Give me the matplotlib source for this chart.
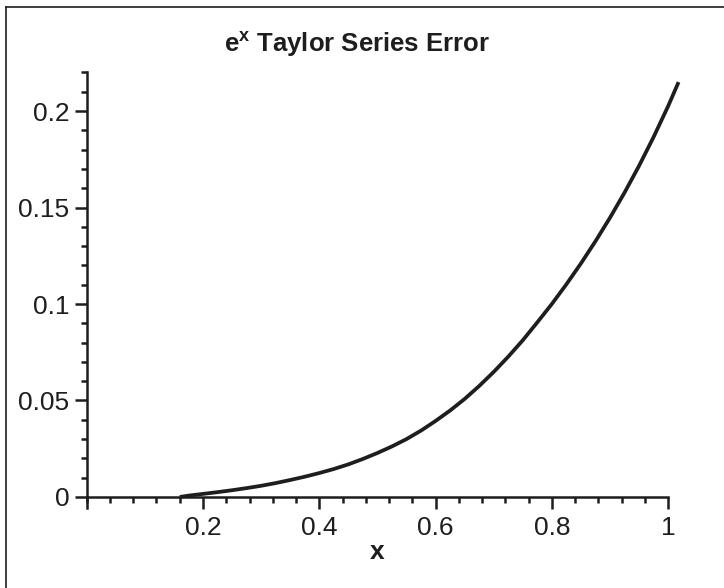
import matplotlib

matplotlib.use("Agg")
import matplotlib.pyplot as plt
from matplotlib.lines import Line2D
from matplotlib.ticker import MultipleLocator, FuncFormatter

plt.rcParams["font.family"] = ["Liberation Sans", "DejaVu Sans"]
plt.rcParams["mathtext.fontset"] = "custom"
plt.rcParams["mathtext.rm"] = "Liberation Sans"
plt.rcParams["mathtext.bf"] = "Liberation Sans:bold"

INK = "#1f1d1e"

# error of the e^x series, sampled along x
x_vals = [0.16, 0.175, 0.2, 0.225, 0.25, 0.275, 0.3, 0.325, 0.35, 0.375,
          0.4, 0.425, 0.45, 0.475, 0.5, 0.525, 0.55, 0.575, 0.6, 0.625,
          0.65, 0.675, 0.7, 0.725, 0.75, 0.775, 0.8, 0.825, 0.85, 0.875,
          0.9, 0.925, 0.95, 0.975, 1.0, 1.018]
err_vals = [0.0, 0.0007, 0.0016, 0.0025, 0.0035, 0.0046, 0.0058, 0.0072, 0.0088, 0.0105,
            0.0124, 0.0145, 0.0169, 0.0197, 0.0228, 0.0262, 0.0300, 0.0344, 0.0394, 0.0448,
            0.0508, 0.0575, 0.0648, 0.0727, 0.0812, 0.0905, 0.1000, 0.1102, 0.1210, 0.1325,
            0.1447, 0.1577, 0.1716, 0.1865, 0.2025, 0.2150]
x_ticks = [0.2, 0.4, 0.6, 0.8, 1.0]
y_ticks = [0.0, 0.05, 0.1, 0.15, 0.2]

fig = plt.figure(figsize=(7.24, 5.88), dpi=100)
ax = fig.add_axes([0.1198, 0.1548, 0.803, 0.722])

ax.plot(x_vals, err_vals, color=INK, lw=2.7, clip_on=False,
        solid_capstyle="butt")

ax.set_xlim(0, 1.0)
ax.set_ylim(0, 0.22)
for side in ("top", "right"):
    ax.spines[side].set_visible(False)
for side in ("left", "bottom"):
    ax.spines[side].set_linewidth(1.8)
    ax.spines[side].set_color(INK)

ax.set_xticks(x_ticks)
ax.set_yticks(y_ticks)
ax.xaxis.set_minor_locator(MultipleLocator(0.04))
ax.yaxis.set_minor_locator(MultipleLocator(0.01))

fmt = FuncFormatter(lambda v, _: "0" if v == 0 else f"{v:g}")
ax.xaxis.set_major_formatter(fmt)
ax.yaxis.set_major_formatter(fmt)

ax.tick_params(which="major", direction="out", length=8.5, width=1.8,
               color=INK, labelsize=19, labelcolor=INK)
ax.tick_params(axis="y", which="major", pad=4)
ax.tick_params(axis="x", which="major", pad=5)
ax.tick_params(which="minor", direction="out", length=4.5, width=1.8,
               color=INK)
# unlabeled major tick where the x axis starts
ax.add_line(Line2D([0, 0], [0, -0.0057], color=INK, lw=1.8, clip_on=False))

title = ax.set_title(r"e$^{\mathbf{x}}$ Taylor Series Error", fontsize=18.5,
                     fontweight="bold", color=INK, pad=15)
title.set_x(0.464)
ax.set_xlabel("x", fontsize=19, fontweight="bold", color=INK, labelpad=0)

# frame lines on the left and top edges
fig.add_artist(Line2D([5.5 / 724, 5.5 / 724], [0, 1 - 7 / 588],
                      transform=fig.transFigure, color=INK, lw=1.2))
fig.add_artist(Line2D([5.5 / 724, 1], [1 - 7 / 588, 1 - 7 / 588],
                      transform=fig.transFigure, color=INK, lw=1.2))

fig.savefig("out.png", dpi=100)
